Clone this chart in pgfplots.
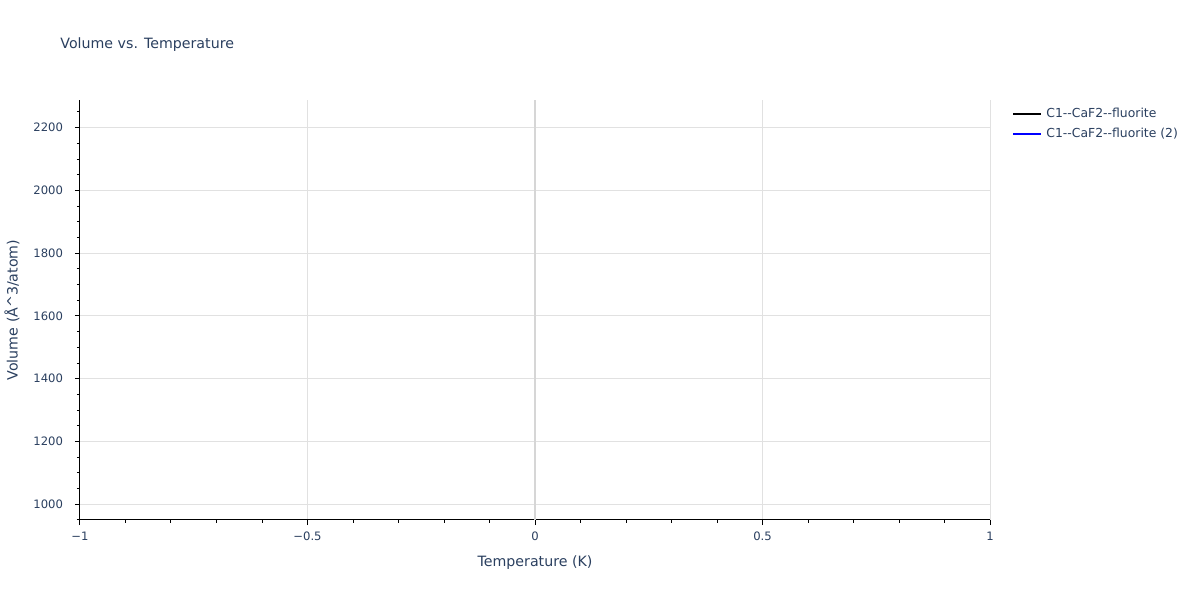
\documentclass[border=0pt]{standalone}
\usepackage{pgfplots}
\pgfplotsset{compat=1.18}
\usepackage{fontspec}
\setmainfont{DejaVu Sans}
\definecolor{plotlytext}{HTML}{2A3F5F}
\definecolor{gridgrey}{HTML}{E1E1E1}
\definecolor{zerogrey}{HTML}{D6D6D6}

\begin{document}
\begin{tikzpicture}
% page is 600pt x 300pt, 1 px of the reference = 0.5 pt
\useasboundingbox (0pt,0pt) rectangle (600pt,300pt);
\node[anchor=west, text=plotlytext, font=\fontsize{7.1}{9}\selectfont, inner sep=0pt] at (30pt,277.5pt) {Volume vs. Temperature};

\begin{axis}[
    at={(40pt,40pt)}, anchor=south west,
    scale only axis,
    width=455pt, height=210pt,
    xmin=-1, xmax=1,
    ymin=950, ymax=2288,
    axis x line*=bottom, axis y line*=left,
    axis line style={black, line width=0.5pt, -},
    xtick={-1,-0.5,0.5,1},
    xticklabels={−1,−0.5,0.5,1},
    extra x ticks={0},
    extra x tick labels={0},
    extra x tick style={major grid style={zerogrey, line width=1pt}},
    minor xtick={-0.9,-0.8,-0.7,-0.6,-0.4,-0.3,-0.2,-0.1,0.1,0.2,0.3,0.4,0.6,0.7,0.8,0.9},
    ytick={1000,1200,1400,1600,1800,2000,2200},
    minor ytick={950,1050,1100,1150,1250,1300,1350,1450,1500,1550,1650,1700,1750,1850,1900,1950,2050,2100,2150,2250},
    xmajorgrids, ymajorgrids,
    major grid style={gridgrey, line width=0.5pt},
    tick align=outside,
    major tick length=2.5pt, minor tick length=1.5pt,
    tick style={black, line width=0.5pt},
    every tick label/.append style={text=plotlytext, font=\fontsize{5.8}{7}\selectfont},
    /pgf/number format/assume math mode=true,
    /pgf/number format/1000 sep={},
    xticklabel style={yshift=0pt},
    yticklabel style={xshift=-2.5pt},
    xlabel={Temperature (K)},
    ylabel={Volume (Å\textasciicircum 3/atom)},
    every axis x label/.style={at={(axis description cs:0.5,-0.102)}, anchor=center, text=plotlytext, font=\fontsize{7.1}{8}\selectfont},
    every axis y label/.style={at={(axis description cs:-0.0747,0.5)}, anchor=center, rotate=90, text=plotlytext, font=\fontsize{7.1}{8}\selectfont},
    legend style={draw=none, fill=none, at={(axis description cs:1.022,0.997)}, anchor=north west,
        font=\fontsize{6.2}{7}\selectfont, text=plotlytext, row sep=0pt, inner sep=1pt},
    legend cell align=left,
    legend image code/.code={\draw[#1, line width=1pt] (0,0) -- (14pt,0);},
    clip=false,
]
\addplot[black, line width=1pt, mark=none] coordinates {(0,1011)};
\addlegendentry{C1-{}-CaF2-{}-fluorite}
\addplot[blue, line width=1pt, mark=none] coordinates {(0,2229)};
\addlegendentry{C1-{}-CaF2-{}-fluorite (2)}
\end{axis}
\end{tikzpicture}
\end{document}
